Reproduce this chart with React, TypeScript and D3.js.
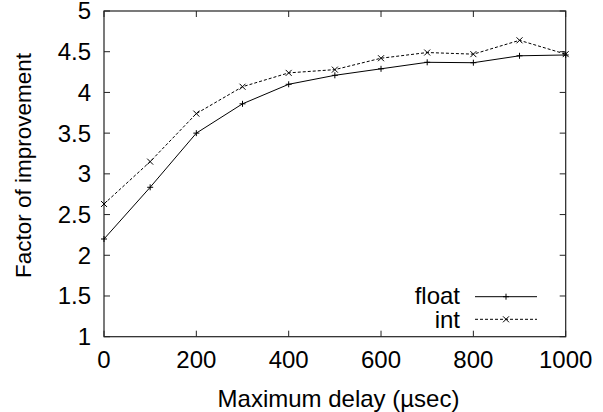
import React from "react";
import * as d3 from "d3";

const delays = [0, 100, 200, 300, 400, 500, 600, 700, 800, 900, 1000];
const floatVals = [2.2, 2.835, 3.5, 3.86, 4.1, 4.21, 4.29, 4.37, 4.365, 4.45, 4.46];
const intVals = [2.63, 3.15, 3.74, 4.07, 4.24, 4.28, 4.42, 4.49, 4.47, 4.64, 4.47];
const xTicks = [0, 200, 400, 600, 800, 1000];
const yTicks = [1, 1.5, 2, 2.5, 3, 3.5, 4, 4.5, 5];
const seriesNames = ["float", "int"];

const W = 603;
const H = 412;
const L = 104;
const R = 565.7;
const T = 11;
const B = 336.7;
const FONT = "'Liberation Sans', Arial, Helvetica, sans-serif";
const FS = 24;

export default function App() {
  const x = d3.scaleLinear().domain([0, 1000]).range([L, R]);
  const y = d3.scaleLinear().domain([1, 5]).range([B, T]);
  const line = d3
    .line<number>()
    .x((_, i) => x(delays[i]))
    .y((d) => y(d));
  const tk = 6;
  const frame = "#222";

  const plus = (cx: number, cy: number, k: string) => (
    <g key={k} stroke="#000" strokeWidth={1}>
      <line x1={cx - 3} x2={cx + 3} y1={cy} y2={cy} />
      <line x1={cx} x2={cx} y1={cy - 3} y2={cy + 3} />
    </g>
  );
  const cross = (cx: number, cy: number, k: string) => (
    <g key={k} stroke="#000" strokeWidth={1}>
      <line x1={cx - 3} x2={cx + 3} y1={cy - 3} y2={cy + 3} />
      <line x1={cx - 3} x2={cx + 3} y1={cy + 3} y2={cy - 3} />
    </g>
  );

  const legX1 = 475;
  const legX2 = 537;
  const legMid = (legX1 + legX2) / 2;

  return (
    <svg
      width={W}
      height={H}
      style={{ position: "absolute", left: 0, top: 0, background: "#fff" }}
      fontFamily={FONT}
    >
      <rect x={0} y={0} width={W} height={H} fill="#fff" />
      {yTicks.map((t) => (
        <g key={"y" + t} stroke={frame} strokeWidth={1}>
          <line x1={L} x2={L + tk} y1={y(t)} y2={y(t)} />
          <line x1={R} x2={R - tk} y1={y(t)} y2={y(t)} />
        </g>
      ))}
      {xTicks.map((t) => (
        <g key={"x" + t} stroke={frame} strokeWidth={1}>
          <line x1={x(t)} x2={x(t)} y1={B} y2={B - tk} />
          <line x1={x(t)} x2={x(t)} y1={T} y2={T + tk} />
        </g>
      ))}
      <rect x={L} y={T} width={R - L} height={B - T} fill="none" stroke={frame} strokeWidth={1.2} />
      {yTicks.map((t) => (
        <text key={"yl" + t} x={91} y={y(t) + 8.4} fontSize={FS} textAnchor="end" fill="#000">
          {String(t)}
        </text>
      ))}
      {xTicks.map((t) => (
        <text key={"xl" + t} x={x(t)} y={368.3} fontSize={FS} textAnchor="middle" fill="#000">
          {String(t)}
        </text>
      ))}
      <text x={338.5} y={406.5} fontSize={FS} textAnchor="middle" fill="#000">
        Maximum delay (µsec)
      </text>
      <text
        transform={`translate(30.5,165.5) rotate(-90)`}
        fontSize={22.5}
        textAnchor="middle"
        fill="#000"
      >
        Factor of improvement
      </text>
      <path d={line(floatVals) || ""} fill="none" stroke="#000" strokeWidth={1} />
      <path d={line(intVals) || ""} fill="none" stroke="#000" strokeWidth={1} strokeDasharray="3,2" />
      {floatVals.map((v, i) => plus(x(delays[i]), y(v), "fp" + i))}
      {intVals.map((v, i) => cross(x(delays[i]), y(v), "ip" + i))}
      <text x={460} y={304} fontSize={FS} textAnchor="end" fill="#000">
        {seriesNames[0]}
      </text>
      <line x1={legX1} x2={legX2} y1={296.7} y2={296.7} stroke="#000" strokeWidth={1} />
      {plus(legMid, 296.7, "lp")}
      <text x={460} y={328.3} fontSize={FS} textAnchor="end" fill="#000">
        {seriesNames[1]}
      </text>
      <line x1={legX1} x2={legX2} y1={319.3} y2={319.3} stroke="#000" strokeWidth={1} strokeDasharray="3,2" />
      {cross(legMid, 319.3, "lc")}
    </svg>
  );
}
